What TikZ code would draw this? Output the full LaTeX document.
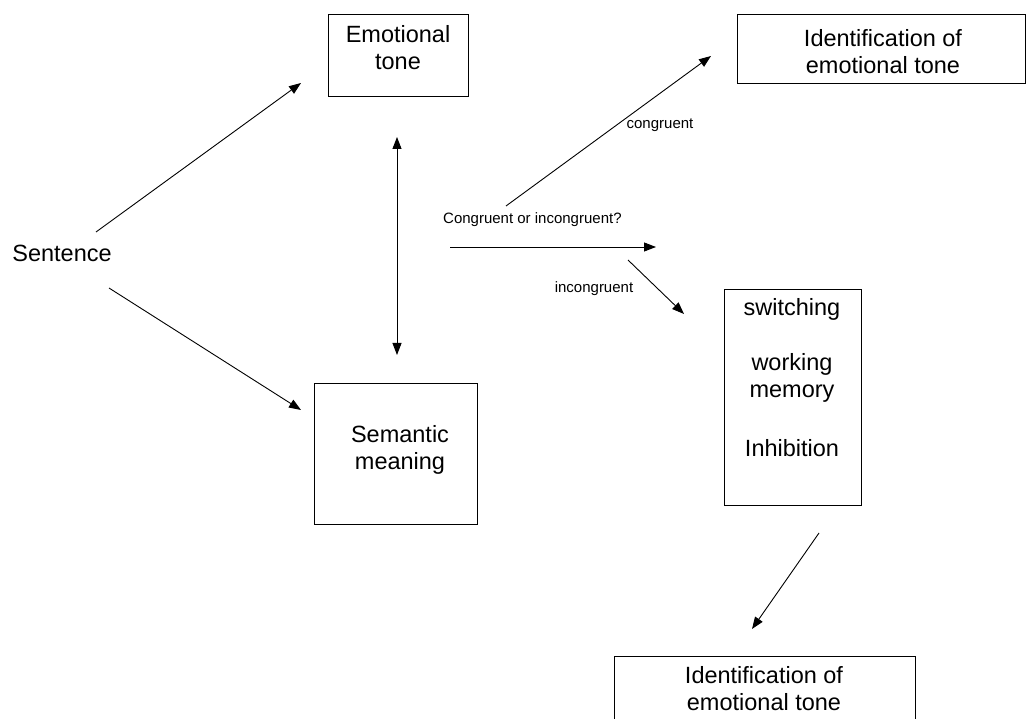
\documentclass[tikz,border=0pt]{standalone}
\usepackage{fontspec}
\setmainfont{Liberation Sans}
\usetikzlibrary{arrows.meta}
\begin{document}
\begin{tikzpicture}[x=1pt,y=-1pt,
  box/.style={draw, line width=0.9pt, inner sep=0pt, anchor=north west},
  big/.style={font=\fontsize{23.5}{27}\selectfont, align=center, inner sep=0pt},
  small/.style={font=\fontsize{15}{18}\selectfont, inner sep=0pt},
  arr/.style={line width=0.9pt, -{Triangle[length=12pt,width=9pt]}},
  darr/.style={line width=0.9pt, {Triangle[length=12pt,width=9pt]}-{Triangle[length=12pt,width=9pt]}}]
\useasboundingbox (0,0) rectangle (1026,719);
% boxes
\node[box, minimum width=140pt, minimum height=82pt] (emo) at (328,14) {};
\node[box, minimum width=288pt, minimum height=69pt] (id1) at (737,14) {};
\node[box, minimum width=163pt, minimum height=141pt] (sem) at (314,383) {};
\node[box, minimum width=137pt, minimum height=216pt] (exe) at (724,289) {};
\node[box, minimum width=301pt, minimum height=80pt] (id2) at (614,656) {};
% texts
\node[big] (sent) at (62,253) {Sentence};
\node[big] (emotxt) at (398,48) {Emotional\\tone};
\node[big] (id1txt) at (883,52) {Identification of\\emotional tone};
\node[big] (semtxt) at (400,450) {Semantic\\meaning};
\node[big] (sw) at (792,309) {switching};
\node[big] (wm) at (792,378) {working\\memory};
\node[big] (inh) at (792,448) {Inhibition};
\node[big] (id2txt) at (764,689) {Identification of\\emotional tone};
\node[small] (cong) at (660,125) {congruent};
\node[small, anchor=west] (q) at (443,220) {Congruent or incongruent?};
\node[small] (incong) at (594,289) {incongruent};
% arrow end points
\coordinate (a1s) at (96,232);  \coordinate (a1e) at (301,83);
\coordinate (a2s) at (109,288); \coordinate (a2e) at (301,410);
\coordinate (a3s) at (397,137); \coordinate (a3e) at (397,355);
\coordinate (a4s) at (506,206); \coordinate (a4e) at (711,56);
\coordinate (a5s) at (450,247); \coordinate (a5e) at (656,247);
\coordinate (a6s) at (628,260); \coordinate (a6e) at (684,314);
\coordinate (a7s) at (819,533); \coordinate (a7e) at (752,629);
\draw[arr] (a1s) -- (a1e);
\draw[arr] (a2s) -- (a2e);
\draw[darr] (a3s) -- (a3e);
\draw[arr] (a4s) -- (a4e);
\draw[arr] (a5s) -- (a5e);
\draw[arr] (a6s) -- (a6e);
\draw[arr] (a7s) -- (a7e);
\end{tikzpicture}
\end{document}
